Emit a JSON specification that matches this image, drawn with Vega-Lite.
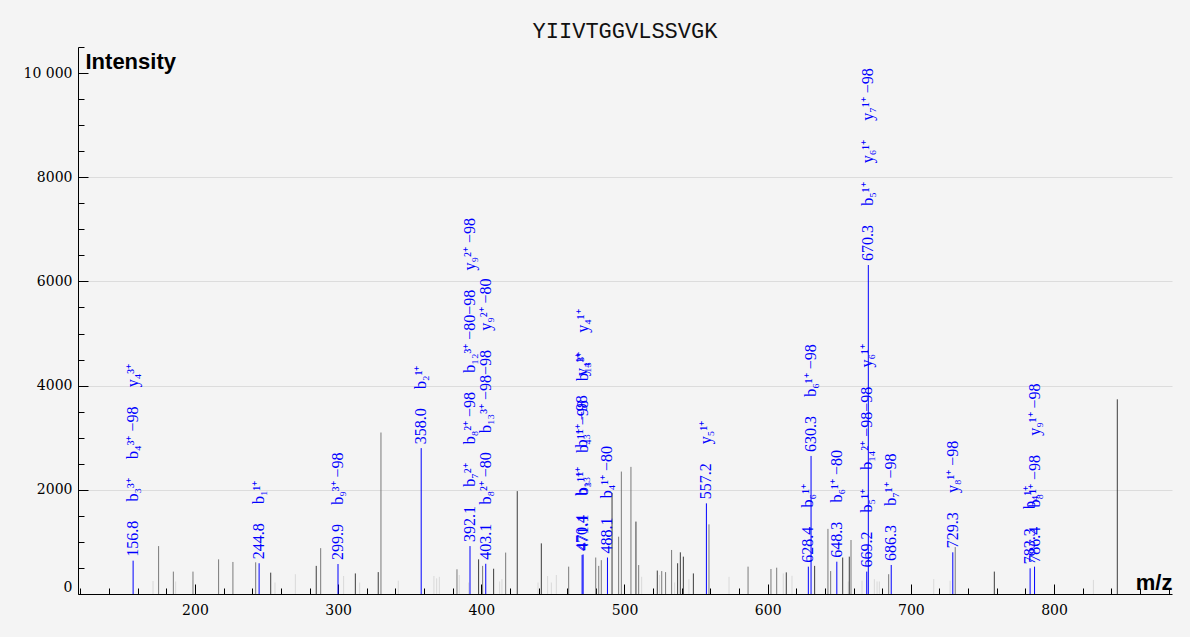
{
  "$schema": "https://vega.github.io/schema/vega-lite/v6.json",
  "width": 1094,
  "height": 547,
  "autosize": {"type": "none"},
  "padding": {"left": 78, "top": 47, "right": 18, "bottom": 43},
  "background": "#f4f4f4",
  "title": {"text": "YIIVTGGVLSSVGK", "font": "Liberation Mono", "fontSize": 22, "fontWeight": "normal", "color": "#111111", "anchor": "middle", "baseline": "bottom", "offset": 6, "dy": 24},
  "config": {
    "view": {"stroke": null},
    "axis": {"labelFont": "DejaVu Serif", "labelFontSize": 14, "labelColor": "#000000", "domainColor": "#000000", "tickColor": "#000000", "domainWidth": 1, "tickWidth": 1}
  },
  "datasets": {
    "peaks": [
      {"mz": 170.7, "intensity": 250, "kind": "light"},
      {"mz": 186.5, "intensity": 240, "kind": "light"},
      {"mz": 255.9, "intensity": 220, "kind": "light"},
      {"mz": 270.1, "intensity": 380, "kind": "light"},
      {"mz": 303.8, "intensity": 345, "kind": "light"},
      {"mz": 315.0, "intensity": 220, "kind": "light"},
      {"mz": 342.0, "intensity": 255, "kind": "light"},
      {"mz": 366.9, "intensity": 345, "kind": "light"},
      {"mz": 368.8, "intensity": 300, "kind": "light"},
      {"mz": 370.7, "intensity": 330, "kind": "light"},
      {"mz": 384.6, "intensity": 365, "kind": "light"},
      {"mz": 391.2, "intensity": 220, "kind": "light"},
      {"mz": 412.8, "intensity": 240, "kind": "light"},
      {"mz": 414.4, "intensity": 285, "kind": "light"},
      {"mz": 439.6, "intensity": 220, "kind": "light"},
      {"mz": 446.3, "intensity": 345, "kind": "light"},
      {"mz": 448.9, "intensity": 220, "kind": "light"},
      {"mz": 452.4, "intensity": 365, "kind": "light"},
      {"mz": 512.0, "intensity": 330, "kind": "light"},
      {"mz": 524.5, "intensity": 365, "kind": "light"},
      {"mz": 535.0, "intensity": 220, "kind": "light"},
      {"mz": 545.0, "intensity": 285, "kind": "light"},
      {"mz": 573.0, "intensity": 330, "kind": "light"},
      {"mz": 610.9, "intensity": 395, "kind": "light"},
      {"mz": 617.0, "intensity": 350, "kind": "light"},
      {"mz": 656.3, "intensity": 240, "kind": "light"},
      {"mz": 665.9, "intensity": 255, "kind": "light"},
      {"mz": 674.5, "intensity": 285, "kind": "light"},
      {"mz": 676.4, "intensity": 240, "kind": "light"},
      {"mz": 678.0, "intensity": 240, "kind": "light"},
      {"mz": 716.0, "intensity": 285, "kind": "light"},
      {"mz": 727.4, "intensity": 255, "kind": "light"},
      {"mz": 827.5, "intensity": 270, "kind": "light"},
      {"mz": 174.6, "intensity": 920, "kind": "mid"},
      {"mz": 184.9, "intensity": 430, "kind": "mid"},
      {"mz": 198.6, "intensity": 430, "kind": "mid"},
      {"mz": 216.5, "intensity": 665, "kind": "mid"},
      {"mz": 226.5, "intensity": 615, "kind": "mid"},
      {"mz": 242.4, "intensity": 608, "kind": "mid"},
      {"mz": 287.8, "intensity": 880, "kind": "mid"},
      {"mz": 329.9, "intensity": 3100, "kind": "mid"},
      {"mz": 383.0, "intensity": 474, "kind": "mid"},
      {"mz": 400.9, "intensity": 540, "kind": "mid"},
      {"mz": 417.0, "intensity": 795, "kind": "mid"},
      {"mz": 461.0, "intensity": 525, "kind": "mid"},
      {"mz": 479.9, "intensity": 700, "kind": "mid"},
      {"mz": 482.0, "intensity": 540, "kind": "mid"},
      {"mz": 483.8, "intensity": 650, "kind": "mid"},
      {"mz": 495.9, "intensity": 1100, "kind": "mid"},
      {"mz": 497.8, "intensity": 2350, "kind": "mid"},
      {"mz": 504.5, "intensity": 2440, "kind": "mid"},
      {"mz": 509.9, "intensity": 555, "kind": "mid"},
      {"mz": 526.0, "intensity": 440, "kind": "mid"},
      {"mz": 528.7, "intensity": 420, "kind": "mid"},
      {"mz": 532.9, "intensity": 845, "kind": "mid"},
      {"mz": 559.0, "intensity": 1337, "kind": "mid"},
      {"mz": 586.3, "intensity": 525, "kind": "mid"},
      {"mz": 602.3, "intensity": 480, "kind": "mid"},
      {"mz": 606.3, "intensity": 505, "kind": "mid"},
      {"mz": 642.1, "intensity": 1250, "kind": "mid"},
      {"mz": 644.0, "intensity": 440, "kind": "mid"},
      {"mz": 658.2, "intensity": 1036, "kind": "mid"},
      {"mz": 684.5, "intensity": 380, "kind": "mid"},
      {"mz": 731.0, "intensity": 900, "kind": "mid"},
      {"mz": 252.9, "intensity": 410, "kind": "dark"},
      {"mz": 284.7, "intensity": 540, "kind": "dark"},
      {"mz": 312.0, "intensity": 395, "kind": "dark"},
      {"mz": 328.0, "intensity": 420, "kind": "dark"},
      {"mz": 398.1, "intensity": 665, "kind": "dark"},
      {"mz": 408.6, "intensity": 485, "kind": "dark"},
      {"mz": 425.1, "intensity": 1975, "kind": "dark"},
      {"mz": 441.9, "intensity": 972, "kind": "dark"},
      {"mz": 491.3, "intensity": 1940, "kind": "dark"},
      {"mz": 508.0, "intensity": 1390, "kind": "dark"},
      {"mz": 522.9, "intensity": 450, "kind": "dark"},
      {"mz": 537.1, "intensity": 590, "kind": "dark"},
      {"mz": 539.0, "intensity": 800, "kind": "dark"},
      {"mz": 541.1, "intensity": 717, "kind": "dark"},
      {"mz": 548.1, "intensity": 395, "kind": "dark"},
      {"mz": 613.0, "intensity": 415, "kind": "dark"},
      {"mz": 632.8, "intensity": 540, "kind": "dark"},
      {"mz": 652.4, "intensity": 700, "kind": "dark"},
      {"mz": 657.0, "intensity": 717, "kind": "dark"},
      {"mz": 758.3, "intensity": 430, "kind": "dark"},
      {"mz": 844.2, "intensity": 3737, "kind": "dark"}
    ],
    "matched": [
      {"mz": 156.8, "intensity": 640, "label": "156.8\u2003\u2009b₃³⁺\u2003\u2009b₄³⁺ −98\u2003\u2009y₄³⁺"},
      {"mz": 244.8, "intensity": 590, "label": "244.8\u2003\u2009b₁¹⁺"},
      {"mz": 299.9, "intensity": 575, "label": "299.9\u2003\u2009b₉³⁺ −98"},
      {"mz": 358.0, "intensity": 2800, "label": "358.0\u2003\u2009b₂¹⁺"},
      {"mz": 392.1, "intensity": 920, "label": "392.1\u2003\u2009b₇²⁺\u2003\u2009b₈²⁺ −98\u2003\u2009b₁₂³⁺ −80−98\u2003\u2009y₉²⁺ −98"},
      {"mz": 403.1, "intensity": 580, "label": "403.1\u2003\u2009b₈²⁺ −80\u2003\u2009b₁₃³⁺ −98−98\u2003\u2009y₉²⁺ −80"},
      {"mz": 470.4, "intensity": 750, "label": "470.4\u2003\u2009b₁₃¹⁺\u2003\u2009b₃¹⁺ −98\u2003\u2009y₄¹⁺"},
      {"mz": 471.1, "intensity": 760, "label": "471.1\u2003\u2009b₃¹⁺\u2003\u2009b₄¹⁺ −98\u2003\u2009b₁₃³⁺\u2003\u2009y₄¹⁺"},
      {"mz": 488.1, "intensity": 700, "label": "488.1\u2003\u2009b₄¹⁺ −80"},
      {"mz": 557.2, "intensity": 1740, "label": "557.2\u2003\u2009y₅¹⁺"},
      {"mz": 628.4, "intensity": 525, "label": "628.4\u2003\u2009b₆¹⁺"},
      {"mz": 630.3, "intensity": 2650, "label": "630.3\u2003\u2009b₆¹⁺ −98"},
      {"mz": 648.3, "intensity": 620, "label": "648.3\u2003\u2009b₆¹⁺ −80"},
      {"mz": 669.2, "intensity": 430, "label": "669.2\u2003\u2009b₅¹⁺\u2003\u2009b₁₄²⁺ −98−98\u2003\u2009y₆¹⁺"},
      {"mz": 670.3, "intensity": 6315, "label": "670.3\u2003\u2009b₅¹⁺\u2003\u2009y₆¹⁺\u2003\u2009y₇¹⁺ −98"},
      {"mz": 686.3, "intensity": 557, "label": "686.3\u2003\u2009b₇¹⁺ −98"},
      {"mz": 729.3, "intensity": 800, "label": "729.3\u2003\u2009y₈¹⁺ −98"},
      {"mz": 783.3, "intensity": 493, "label": "783.3\u2003\u2009b₄¹⁺"},
      {"mz": 786.4, "intensity": 525, "label": "786.4\u2003\u2009b₈¹⁺ −98\u2003\u2009y₉¹⁺ −98"}
    ]
  },
  "resolve": {"axis": {"x": "independent", "y": "independent"}},
  "layer": [
    {
      "data": {"name": "peaks"},
      "mark": {"type": "rule", "strokeWidth": 1},
      "encoding": {
        "x": {"field": "mz", "type": "quantitative",
          "scale": {"domain": [118.3, 882.4], "nice": false, "zero": false},
          "axis": {"orient": "bottom", "values": [200, 300, 400, 500, 600, 700, 800], "format": "d", "tickSize": -10, "labelPadding": 19, "labelBaseline": "top", "grid": false,
            "title": "m/z", "titleFont": "Liberation Sans", "titleFontWeight": "bold", "titleFontSize": 22, "titleColor": "#000000", "titleAnchor": "end", "titleAlign": "right", "titleBaseline": "alphabetic", "titleX": 1094, "titleY": -5, "titleAngle": 0}},
        "y": {"field": "intensity", "type": "quantitative",
          "scale": {"domain": [0, 10500], "nice": false},
          "axis": {"orient": "left", "values": [0, 2000, 4000, 6000, 8000, 10000], "format": "d",
            "labelExpr": "datum.value == 10000 ? '10 000' : datum.label",
            "tickSize": -10, "labelPadding": 16, "labelFlush": true,
            "grid": true, "gridColor": "#dcdcdc", "gridWidth": 1,
            "gridOpacity": {"condition": {"test": "datum.value == 0 || datum.value == 10000", "value": 0}, "value": 1},
            "title": "Intensity", "titleFont": "Liberation Sans", "titleFontWeight": "bold", "titleFontSize": 22, "titleColor": "#000000", "titleAngle": 0, "titleAlign": "left", "titleBaseline": "top", "titleX": 7, "titleY": 4}},
        "y2": {"datum": 0},
        "color": {"field": "kind", "type": "nominal", "legend": null,
          "scale": {"domain": ["light", "mid", "dark"], "range": ["#d9d9d9", "#7a7a7a", "#3c3c3c"]}}
      }
    },
    {
      "data": {"name": "matched"},
      "mark": {"type": "rule", "strokeWidth": 1, "color": "#0000ff"},
      "encoding": {
        "x": {"field": "mz", "type": "quantitative",
          "axis": {"orient": "bottom", "values": [120, 140, 160, 180, 200, 220, 240, 260, 280, 300, 320, 340, 360, 380, 400, 420, 440, 460, 480, 500, 520, 540, 560, 580, 600, 620, 640, 660, 680, 700, 720, 740, 760, 780, 800, 820, 840, 860, 880], "tickSize": -6, "labels": false, "domain": false, "grid": false, "title": null}},
        "y": {"field": "intensity", "type": "quantitative",
          "axis": {"orient": "left", "values": [500, 1000, 1500, 2000, 2500, 3000, 3500, 4000, 4500, 5000, 5500, 6000, 6500, 7000, 7500, 8000, 8500, 9000, 9500, 10000, 10500], "tickSize": -6, "labels": false, "domain": false, "grid": false, "title": null}},
        "y2": {"datum": 0}
      }
    },
    {
      "data": {"name": "matched"},
      "mark": {"type": "text", "angle": 270, "align": "left", "baseline": "middle", "dx": 4, "font": "Liberation Serif", "fontSize": 16, "color": "#0000ff"},
      "encoding": {
        "x": {"field": "mz", "type": "quantitative", "axis": null},
        "y": {"field": "intensity", "type": "quantitative", "axis": null},
        "text": {"field": "label", "type": "nominal"}
      }
    }
  ]
}
